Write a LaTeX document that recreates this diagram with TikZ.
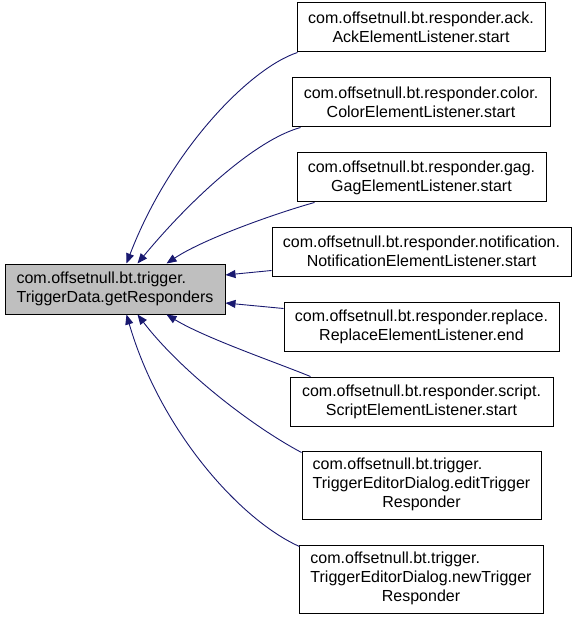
\documentclass[tikz,border=0pt]{standalone}
\usepackage{fontspec}
\setmainfont{Liberation Sans}
\usetikzlibrary{arrows.meta}
\definecolor{edgeblue}{HTML}{191970}
\definecolor{calleegray}{HTML}{BFBFBF}
\begin{document}
\begin{tikzpicture}[x=1pt, y=-1pt,
  caller/.style={draw=black, line width=1pt, fill=white, inner sep=0pt, minimum height=49pt, align=center, font={\fontsize{16}{19}\selectfont}},
  callee/.style={caller, fill=calleegray, align=left, minimum height=50pt},
  call/.style={draw=edgeblue, line width=0.9pt, -{Triangle[length=10pt, width=8pt]}}]
\useasboundingbox (0,0) rectangle (576,620);
\node[callee, minimum width=220pt] (tr) at (115, 289) {com.offsetnull.bt.trigger.\\TriggerData.getResponders};
\node[caller, minimum width=248pt] (ack) at (421, 27.5) {com.offsetnull.bt.responder.ack.\\AckElementListener.start};
\node[caller, minimum width=258pt] (color) at (421, 102.5) {com.offsetnull.bt.responder.color.\\ColorElementListener.start};
\node[caller, minimum width=249pt] (gag) at (421.5, 177.5) {com.offsetnull.bt.responder.gag.\\GagElementListener.start};
\node[caller, minimum width=299pt] (notif) at (421.5, 251.5) {com.offsetnull.bt.responder.notification.\\NotificationElementListener.start};
\node[caller, minimum width=275pt] (replace) at (421.5, 326.5) {com.offsetnull.bt.responder.replace.\\ReplaceElementListener.end};
\node[caller, minimum width=263pt] (script) at (421.5, 401.5) {com.offsetnull.bt.responder.script.\\ScriptElementListener.start};
\node[caller, minimum width=239pt, minimum height=68pt] (edit) at (421.5, 485) {\begin{tabular}{@{}l@{}}com.offsetnull.bt.trigger.\\TriggerEditorDialog.editTrigger\\\multicolumn{1}{@{}c@{}}{Responder}\end{tabular}};
\node[caller, minimum width=244pt, minimum height=68pt] (new) at (421, 579) {\begin{tabular}{@{}l@{}}com.offsetnull.bt.trigger.\\TriggerEditorDialog.newTrigger\\\multicolumn{1}{@{}c@{}}{Responder}\end{tabular}};
% calls into getResponders
\path[call] ([xshift=1pt]ack.south west) .. controls (250,68) and (170,150) .. ([xshift=122pt]tr.north west);
\path[call] ([xshift=9pt]color.south west) .. controls (255,140) and (190,200) .. ([xshift=133pt]tr.north west);
\path[call] ([xshift=18pt]gag.south west) .. controls (280,212) and (205,238) .. ([xshift=162pt]tr.north west);
\path[call] ([yshift=6pt]notif.south west) -- ([yshift=14pt]tr.east);
\path[call] ([yshift=-7pt]replace.north west) -- ([yshift=-14pt]tr.east);
\path[call] ([xshift=21pt]script.north west) .. controls (275,362) and (205,338) .. ([xshift=162pt]tr.south west);
\path[call] ([yshift=-2pt]edit.north west) .. controls (250,425) and (180,370) .. ([xshift=133pt]tr.south west);
\path[call] ([xshift=1pt,yshift=-2pt]new.north west) .. controls (240,520) and (160,430) .. ([xshift=122pt]tr.south west);
\end{tikzpicture}
\end{document}
